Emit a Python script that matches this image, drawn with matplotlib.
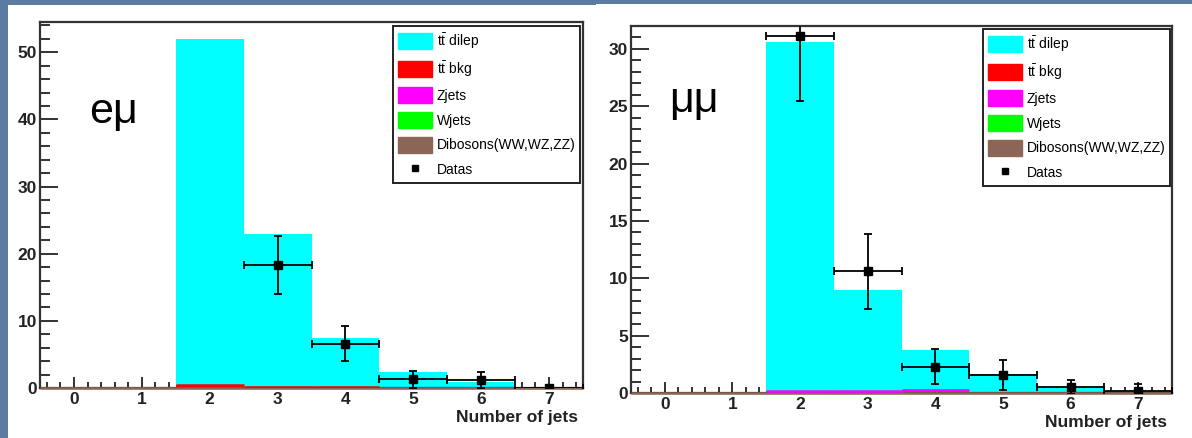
import numpy as np
import matplotlib.pyplot as plt
from matplotlib.patches import Patch, Rectangle
from matplotlib.lines import Line2D
from matplotlib.ticker import MultipleLocator

plt.rcParams['font.family'] = ['Liberation Sans', 'DejaVu Sans']
plt.rcParams['mathtext.fontset'] = 'custom'
plt.rcParams['mathtext.rm'] = 'Liberation Sans'

# jet multiplicity bins 0..7
njets = np.arange(8)
edges = np.arange(9) - 0.5

# e-mu channel
emu_dilep = [0, 0, 51.6, 22.8, 7.3, 2.4, 0.9, 0.15]
emu_ttbkg = [0, 0, 0.4, 0.1, 0.1, 0, 0, 0]
emu_zjets = [0, 0, 0, 0, 0, 0, 0, 0]
emu_wjets = [0, 0, 0, 0, 0, 0, 0, 0]
emu_dibos = [0, 0, 0, 0, 0, 0, 0, 0]
emu_data_x = [3, 4, 5, 6, 7]
emu_data = [18.3, 6.6, 1.3, 1.2, 0.0]
emu_err = [4.3, 2.6, 1.3, 1.2, 0.0]

# mu-mu channel
mm_dilep = [0, 0, 30.45, 8.85, 3.45, 1.7, 0.45, 0.2]
mm_ttbkg = [0, 0, 0, 0, 0, 0, 0, 0]
mm_zjets = [0, 0, 0.15, 0.15, 0.3, 0, 0, 0]
mm_wjets = [0, 0, 0, 0, 0, 0, 0, 0]
mm_dibos = [0, 0, 0, 0, 0, 0, 0, 0]
mm_data_x = [2, 3, 4, 5, 6, 7]
mm_data = [31.1, 10.6, 2.3, 1.6, 0.5, 0.2]
mm_err = [5.6, 3.25, 1.5, 1.3, 0.6, 0.6]

labels = [r'$\mathrm{t\bar{t}}$ dilep', r'$\mathrm{t\bar{t}}$ bkg', 'Zjets', 'Wjets',
          'Dibosons(WW,WZ,ZZ)']
colors = ['#00ffff', '#ff0000', '#ff00ff', '#00ff00', '#8b6656']

W, H = 1192, 438
fig = plt.figure(figsize=(W / 100, H / 100), dpi=100)
fig.patch.set_facecolor('#5a7ba2')
fig.patches.append(Rectangle((8 / W, 0), 588 / W, 433 / H, transform=fig.transFigure,
                             facecolor='white', edgecolor='none', zorder=-1))
fig.patches.append(Rectangle((596 / W, 0), 596 / W, 434 / H, transform=fig.transFigure,
                             facecolor='white', edgecolor='none', zorder=-1))


def draw_panel(rect, comps, data_x, data, err, ymax, ymajor, yminor, tag, tagpos, legpos):
    ax = fig.add_axes(rect)
    ax.set_facecolor('white')
    # stack from bottom: dibosons, wjets, zjets, tt bkg, tt dilep
    order = [4, 3, 2, 1, 0]
    base = np.zeros(8)
    tops = {}
    for i in order:
        top = base + np.asarray(comps[i], float)
        ax.stairs(top, edges, baseline=base, fill=True, color=colors[i], lw=0, zorder=2)
        tops[i] = top
        base = top
    # dibosons outline runs along the whole axis, the other small
    # backgrounds only show a line where they have content
    ax.stairs(tops[4], edges, baseline=None, color=colors[4], lw=1.8, zorder=7,
              clip_on=False)
    for i in [3, 2, 1]:
        vals = np.asarray(comps[i], float)
        nz = vals > 0
        ax.hlines(tops[i][nz], edges[:-1][nz], edges[1:][nz], color=colors[i],
                  lw=1.8, zorder=7.5)

    ax.errorbar(data_x, data, yerr=err, xerr=0.5, fmt='s', color='black', ms=6,
                elinewidth=1.3, capsize=3, capthick=1.3, zorder=8, clip_on=True)

    ax.set_xlim(-0.5, 7.5)
    ax.set_ylim(0, ymax)
    ax.xaxis.set_major_locator(MultipleLocator(1))
    ax.xaxis.set_minor_locator(MultipleLocator(0.2))
    ax.yaxis.set_major_locator(MultipleLocator(ymajor))
    ax.yaxis.set_minor_locator(MultipleLocator(yminor))
    ax.tick_params(which='both', direction='in', top=False, right=False, colors='#222222',
                   width=1.3)
    ax.tick_params(axis='y', which='major', length=13, pad=2)
    ax.tick_params(axis='y', which='minor', length=7)
    ax.tick_params(axis='x', which='major', length=8, pad=3)
    ax.tick_params(axis='x', which='minor', length=4.5)
    for lab in ax.get_xticklabels() + ax.get_yticklabels():
        lab.set_fontweight('bold')
        lab.set_fontsize(12.5)
        lab.set_color('#222222')
    for sp in ax.spines.values():
        sp.set_linewidth(1.6)
        sp.set_color('#333333')
        sp.set_zorder(6)

    ax.text(0.99, -0.06, 'Number of jets', transform=ax.transAxes, ha='right', va='top',
            fontsize=12.5, fontweight='bold', color='#222222')
    ax.text(tagpos[0], tagpos[1], tag, transform=ax.transAxes, fontsize=31,
            ha='left', va='baseline', color='black')

    handles = [Patch(facecolor=c, edgecolor=c) for c in colors]
    handles.append(Line2D([], [], ls='none', marker='s', ms=5, color='black'))
    leg = ax.legend(handles, labels + ['Datas'], loc='upper left',
                    bbox_to_anchor=legpos, bbox_transform=fig.transFigure,
                    fontsize=10, handlelength=2.45, handleheight=1.45, labelspacing=0.6,
                    handletextpad=0.35, borderpad=0.35, borderaxespad=0,
                    fancybox=False, framealpha=1, edgecolor='#222222')
    leg.get_frame().set_linewidth(1.4)
    leg.set_zorder(9)
    return ax


draw_panel([40 / W, 50 / H, 543 / W, 366 / H],
           [emu_dilep, emu_ttbkg, emu_zjets, emu_wjets, emu_dibos],
           emu_data_x, emu_data, emu_err, 54.5, 10, 2,
           'e\u03bc', (0.09, 0.725), (393 / W, 1 - 26 / H))

draw_panel([631 / W, 45 / H, 541 / W, 367 / H],
           [mm_dilep, mm_ttbkg, mm_zjets, mm_wjets, mm_dibos],
           mm_data_x, mm_data, mm_err, 32, 5, 1,
           '\u03bc\u03bc', (0.07, 0.765), (983 / W, 1 - 29 / H))

fig.savefig('out.png', dpi=100, facecolor=fig.get_facecolor())
